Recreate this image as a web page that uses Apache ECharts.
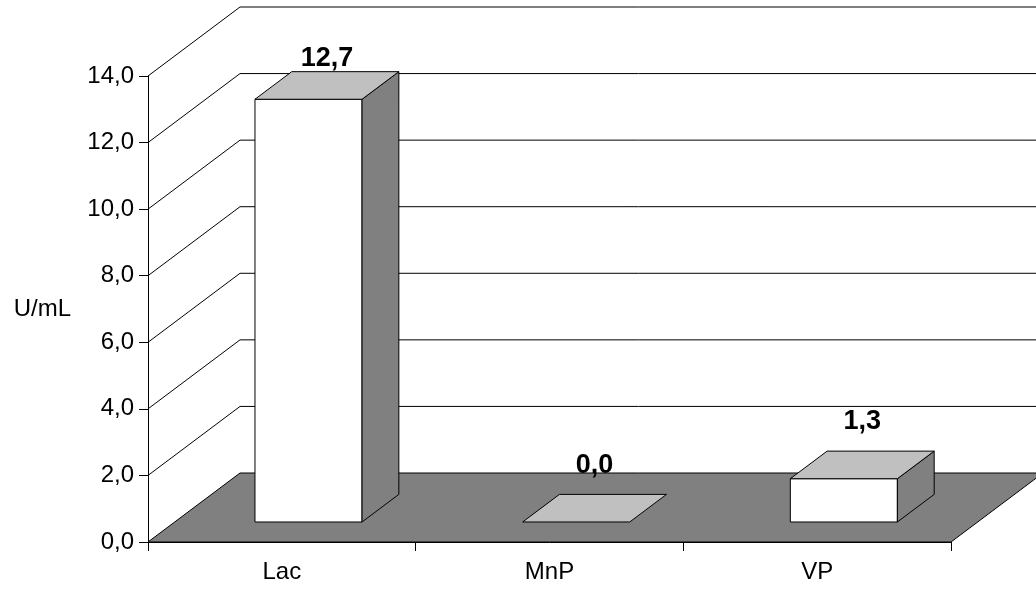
<!DOCTYPE html>
<html>
<head>
<meta charset="utf-8">
<script src="https://cdn.jsdelivr.net/npm/echarts@6/dist/echarts.min.js"></script>
<style>
  html, body { margin: 0; padding: 0; background: #fff; }
  #chart { width: 1036px; height: 590px; }
</style>
</head>
<body>
<div id="chart"></div>
<script>
// Enzyme activities per sample
const categories = ['Lac', 'MnP', 'VP'];
const activity = [12.7, 0.0, 1.3];
const yTicks = [0, 2, 4, 6, 8, 10, 12, 14];
const yTitle = 'U/mL';

const FONT = 'Arial, "Liberation Sans", sans-serif';
// Pseudo-3D geometry: depth of floor and side wall, in pixels
const WALL_DX = 92, WALL_DY = 69;
const BAR_FRONT = 0.29;   // where the bar front face sits inside the depth
const BAR_DEPTH = 0.40;   // bar depth, as a share of the wall depth
const BAR_WIDTH = 0.40;   // bar width, as a share of the category band

function fmt(v) { return v.toFixed(1).replace('.', ','); }

const LINE = { stroke: '#000', lineWidth: 1 };

// Floor, side wall edges and back-wall gridlines
function renderWalls(params, api) {
  const cs = params.coordSys;
  const v = api.value(1);
  const y = api.coord([0, v])[1];
  const xl = cs.x, xr = cs.x + cs.width;
  const children = [];
  if (v === 0) {
    children.push({
      type: 'polygon',
      shape: { points: [[xl, y], [xr, y], [xr + WALL_DX, y - WALL_DY], [xl + WALL_DX, y - WALL_DY]] },
      style: { fill: '#808080', stroke: '#000', lineWidth: 1 }
    });
  } else {
    children.push({
      type: 'polyline',
      shape: { points: [[xl, y], [xl + WALL_DX, y - WALL_DY], [xr + WALL_DX + 400, y - WALL_DY]] },
      style: Object.assign({ fill: null }, LINE)
    });
  }
  return { type: 'group', children };
}

// Box-shaped bars with value label above
function renderBar(params, api) {
  const cs = params.coordSys;
  const cat = api.value(0), v = api.value(1);
  const base = api.coord([cat, 0]);
  const top = api.coord([cat, v]);
  const band = api.size([1, 0])[0];
  const w = band * BAR_WIDTH;
  const fx = WALL_DX * BAR_FRONT, fy = WALL_DY * BAR_FRONT;
  const dx = WALL_DX * BAR_DEPTH, dy = WALL_DY * BAR_DEPTH;
  const x0 = base[0] - w / 2 + fx, x1 = x0 + w;
  const yb = base[1] - fy, yt = top[1] - fy;
  const children = [];
  if (yb - yt > 0.5) {
    children.push({
      type: 'rect',
      shape: { x: x0, y: yt, width: w, height: yb - yt },
      style: Object.assign({ fill: '#ffffff' }, LINE)
    });
    children.push({
      type: 'polygon',
      shape: { points: [[x1, yt], [x1 + dx, yt - dy], [x1 + dx, yb - dy], [x1, yb]] },
      style: Object.assign({ fill: '#808080' }, LINE)
    });
  }
  children.push({
    type: 'polygon',
    shape: { points: [[x0, yt], [x1, yt], [x1 + dx, yt - dy], [x0 + dx, yt - dy]] },
    style: Object.assign({ fill: '#c0c0c0' }, LINE)
  });
  const labelY = Math.max(yt - dy / 2 - 43, cs.y - 17);
  children.push({
    type: 'text',
    style: {
      text: fmt(v),
      x: base[0] + fx + dx / 2,
      y: labelY,
      align: 'center',
      verticalAlign: 'middle',
      font: 'bold 27px ' + FONT,
      fill: '#000'
    }
  });
  return { type: 'group', children };
}

const chart = echarts.init(document.getElementById('chart'), null, { renderer: 'canvas' });
chart.setOption({
  backgroundColor: '#ffffff',
  animation: false,
  grid: { left: 148, right: 85, top: 76, bottom: 48 },
  xAxis: {
    type: 'category',
    data: categories,
    boundaryGap: true,
    axisLine: { lineStyle: { color: '#000', width: 1 } },
    axisTick: { show: true, length: 9, lineStyle: { color: '#000' } },
    axisLabel: { color: '#000', fontSize: 24, fontFamily: FONT, margin: 18 },
    splitLine: { show: false }
  },
  yAxis: {
    type: 'value',
    min: yTicks[0],
    max: yTicks[yTicks.length - 1],
    interval: yTicks[1] - yTicks[0],
    name: yTitle,
    nameLocation: 'middle',
    nameRotate: 0,
    nameGap: 77,
    nameTextStyle: { color: '#000', fontSize: 24, fontFamily: FONT, padding: [0, 0, 42, 0] },
    axisLine: { show: true, lineStyle: { color: '#000', width: 1 } },
    axisTick: { show: true, length: 9, lineStyle: { color: '#000' } },
    axisLabel: { color: '#000', fontSize: 24, fontFamily: FONT, margin: 14, formatter: fmt },
    splitLine: { show: false }
  },
  series: [
    {
      type: 'custom',
      name: 'walls',
      clip: false,
      silent: true,
      z: 1,
      renderItem: renderWalls,
      data: yTicks.map(v => [0, v])
    },
    {
      type: 'custom',
      name: yTitle,
      clip: false,
      z: 3,
      renderItem: renderBar,
      data: activity.map((v, i) => [i, v])
    }
  ]
});
</script>
</body>
</html>
